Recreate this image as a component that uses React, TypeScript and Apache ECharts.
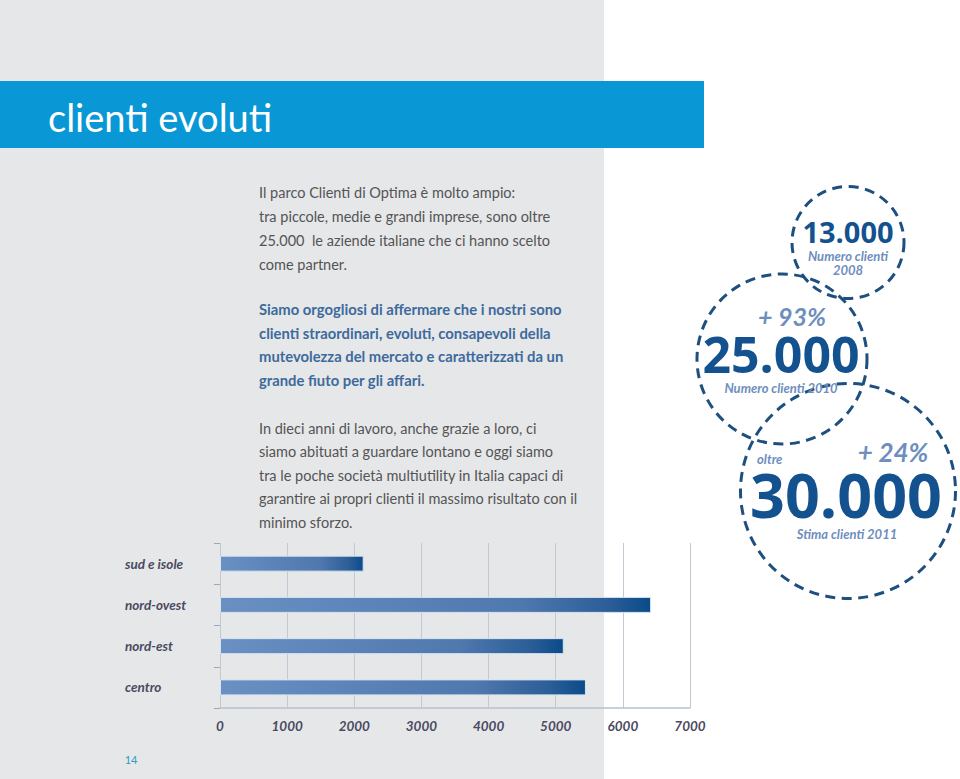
import React, { useEffect, useRef } from "react";
import * as echarts from "echarts";

// ---- data ----
const categories = ["sud e isole", "nord-ovest", "nord-est", "centro"];
const clientValues = [2140, 6420, 5120, 5450];
const axisMin = 0;
const axisMax = 7000;
const axisStep = 1000;

const titleText = "clienti evoluti";
const para1 = [
  "Il parco Clienti di Optima è molto ampio:",
  "tra piccole, medie e grandi imprese, sono oltre",
  "25.000  le aziende italiane che ci hanno scelto",
  "come partner.",
];
const para2 = [
  "Siamo orgogliosi di affermare che i nostri sono",
  "clienti straordinari, evoluti, consapevoli della",
  "mutevolezza del mercato e caratterizzati da un",
  "grande fiuto per gli affari.",
];
const para3 = [
  "In dieci anni di lavoro, anche grazie a loro, ci",
  "siamo abituati a guardare lontano e oggi siamo",
  "tra le poche società multiutility in Italia capaci di",
  "garantire ai propri clienti il massimo risultato con il",
  "minimo sforzo.",
];
const statNumbers = ["13.000", "25.000", "30.000"];
const statCaptions = ["Numero clienti", "2008", "Numero clienti 2010", "Stima clienti 2011"];
const statGrowth = ["+ 93%", "+ 24%"];
const statPrefix = "oltre";
const pageNumber = "14";

const DARK = "#13528e";
const LIGHT = "#6e8ebe";
const DASH = "#1d4f7f";
const BODY = "#545456";
const BOLDBODY = "#3d6a9d";
const AXISTXT = "#4a4a62";

export default function App() {
  const ref = useRef<HTMLDivElement>(null);

  useEffect(() => {
    if (!ref.current) return;
    const chart = echarts.init(ref.current, undefined, { renderer: "svg" });

    const bodyFont = "14.5px Lato";
    const boldFont = "bold 14.8px Lato";
    const textLines: any[] = [];
    para1.forEach((t, i) =>
      textLines.push({
        type: "text",
        x: 259,
        y: 192 + i * 24,
        style: { text: t, font: bodyFont, fill: BODY, textVerticalAlign: "middle" },
      })
    );
    para2.forEach((t, i) =>
      textLines.push({
        type: "text",
        x: 259,
        y: 309 + i * 23.7,
        style: { text: t, font: boldFont, fill: BOLDBODY, textVerticalAlign: "middle" },
      })
    );
    para3.forEach((t, i) =>
      textLines.push({
        type: "text",
        x: 259,
        y: 428 + i * 23.5,
        style: { text: t, font: bodyFont, fill: BODY, textVerticalAlign: "middle" },
      })
    );

    const circle = (cx: number, cy: number, r: number) => ({
      type: "circle",
      shape: { cx, cy, r },
      style: { fill: "none", stroke: DASH, lineWidth: 3, lineDash: [10, 6.5] },
      z: 5,
    });
    const ctext = (text: string, x: number, y: number, font: string, fill: string, align = "center") => ({
      type: "text",
      x,
      y,
      z: 6,
      style: { text, font, fill, textAlign: align, textVerticalAlign: "middle" },
    });

    const option: any = {
      animation: false,
      backgroundColor: "#ffffff",
      grid: { left: 220, right: 270, top: 543, bottom: 71, containLabel: false },
      xAxis: {
        type: "value",
        min: axisMin,
        max: axisMax,
        interval: axisStep,
        axisLine: { show: true, lineStyle: { color: "#b7c1cd", width: 1.5 } },
        axisTick: { show: false },
        splitLine: { show: true, lineStyle: { color: "#c2c9d3", width: 1 } },
        axisLabel: {
          margin: 11,
          color: AXISTXT,
          fontFamily: "Lato",
          fontStyle: "italic",
          fontWeight: "bold",
          fontSize: 13.5,
          formatter: (v: number) => String(v),
        },
      },
      yAxis: {
        type: "category",
        inverse: true,
        data: categories,
        axisLine: { show: false },
        axisTick: { show: true, length: 6, lineStyle: { color: "#9ea8b5" } },
        axisLabel: {
          align: "left",
          margin: 95,
          color: AXISTXT,
          fontFamily: "Lato",
          fontStyle: "italic",
          fontWeight: "bold",
          fontSize: 13.5,
        },
      },
      series: [
        {
          type: "bar",
          data: clientValues,
          barWidth: 16,
          itemStyle: {
            borderColor: "#d6e4f1",
            borderWidth: 1,
            color: new echarts.graphic.LinearGradient(0, 0, 1, 0, [
              { offset: 0, color: "#6a90c3" },
              { offset: 0.7, color: "#4f78ae" },
              { offset: 0.9, color: "#2c5e98" },
              { offset: 1, color: "#0a4b8a" },
            ]),
          },
        },
      ],
      graphic: [
        { type: "rect", z: -10, silent: true, shape: { x: 0, y: 0, width: 604, height: 779 }, style: { fill: "#e6e7e8" } },
        { type: "rect", z: -9, silent: true, shape: { x: 0, y: 81, width: 704, height: 67 }, style: { fill: "#0a97d5" } },
        {
          type: "text",
          x: 48,
          y: 117,
          style: { text: titleText, font: "38px Lato", fill: "#ffffff", textVerticalAlign: "middle" },
        },
        ...textLines,
        circle(848, 242.5, 56),
        circle(782, 359, 85),
        circle(848, 491, 107.5),
        ctext(statNumbers[0], 848, 231, "bold 29px 'Open Sans'", DARK),
        ctext(statCaptions[0], 848, 256, "italic bold 13px Lato", LIGHT),
        ctext(statCaptions[1], 848, 270, "italic bold 13px Lato", LIGHT),
        ctext(statGrowth[0], 792, 316, "italic bold 25px Lato", LIGHT),
        ctext(statNumbers[1], 781, 354, "bold 50px 'Open Sans'", DARK),
        ctext(statCaptions[2], 781, 388, "italic bold 13px Lato", LIGHT),
        ctext(statPrefix, 757, 459, "italic bold 13px Lato", LIGHT, "left"),
        ctext(statGrowth[1], 893, 452, "italic bold 26px Lato", LIGHT),
        ctext(statNumbers[2], 846, 494, "bold 61px 'Open Sans'", DARK),
        ctext(statCaptions[3], 847, 534, "italic bold 13px Lato", LIGHT),
        {
          type: "text",
          x: 131,
          y: 759,
          style: { text: pageNumber, font: "11px Lato", fill: "#2a9dc2", textAlign: "center", textVerticalAlign: "middle" },
        },
      ],
    };

    chart.setOption(option);
    return () => chart.dispose();
  }, []);

  return (
    <div
      ref={ref}
      style={{ position: "fixed", left: 0, top: 0, width: 960, height: 779 }}
    />
  );
}
